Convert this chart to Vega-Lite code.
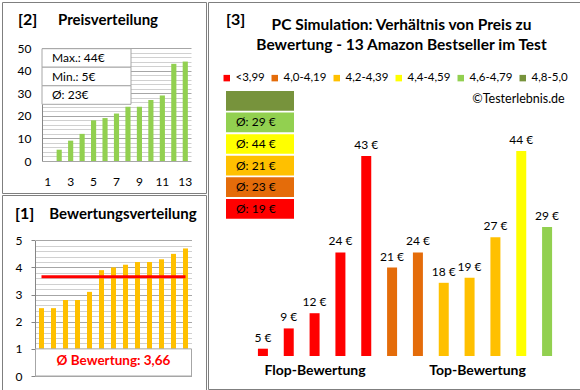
{
  "$schema": "https://vega.github.io/schema/vega-lite/v6.json",
  "background": "white",
  "padding": {"left": 1, "top": 1, "right": 0, "bottom": 0},
  "config": {
    "font": "Lato",
    "view": {"stroke": "#7F7F7F", "strokeWidth": 1},
    "axis": {"labelColor": "#000000", "labelFont": "Lato"},
    "text": {"color": "#000000"}
  },
  "datasets": {
    "preise": [
      {"rang": 2, "preis": 5}, {"rang": 3, "preis": 9}, {"rang": 4, "preis": 12},
      {"rang": 5, "preis": 18}, {"rang": 6, "preis": 19}, {"rang": 7, "preis": 21},
      {"rang": 8, "preis": 24}, {"rang": 9, "preis": 24}, {"rang": 10, "preis": 27},
      {"rang": 11, "preis": 29}, {"rang": 12, "preis": 43}, {"rang": 13, "preis": 44}
    ],
    "preisstats": [
      {"kennzahl": "Max.", "wert": 44},
      {"kennzahl": "Min.", "wert": 5},
      {"kennzahl": "Ø", "wert": 23}
    ],
    "bewertungen": [
      {"rang": 1, "bewertung": 2.5}, {"rang": 2, "bewertung": 2.5}, {"rang": 3, "bewertung": 2.8},
      {"rang": 4, "bewertung": 2.8}, {"rang": 5, "bewertung": 3.1}, {"rang": 6, "bewertung": 3.9},
      {"rang": 7, "bewertung": 4.0}, {"rang": 8, "bewertung": 4.1}, {"rang": 9, "bewertung": 4.2},
      {"rang": 10, "bewertung": 4.2}, {"rang": 11, "bewertung": 4.3}, {"rang": 12, "bewertung": 4.5},
      {"rang": 13, "bewertung": 4.7}
    ],
    "produkte": [
      {"nr": 1, "preis": 5, "klasse": "<3,99"},
      {"nr": 2, "preis": 9, "klasse": "<3,99"},
      {"nr": 3, "preis": 12, "klasse": "<3,99"},
      {"nr": 4, "preis": 24, "klasse": "<3,99"},
      {"nr": 5, "preis": 43, "klasse": "<3,99"},
      {"nr": 6, "preis": 21, "klasse": "4,0-4,19"},
      {"nr": 7, "preis": 24, "klasse": "4,0-4,19"},
      {"nr": 8, "preis": 18, "klasse": "4,2-4,39"},
      {"nr": 9, "preis": 19, "klasse": "4,2-4,39"},
      {"nr": 10, "preis": 27, "klasse": "4,2-4,39"},
      {"nr": 11, "preis": 44, "klasse": "4,4-4,59"},
      {"nr": 12, "preis": 29, "klasse": "4,6-4,79"}
    ],
    "klassen": [
      {"klasse": "4,8-5,0", "schnitt": null},
      {"klasse": "4,6-4,79", "schnitt": 29},
      {"klasse": "4,4-4,59", "schnitt": 44},
      {"klasse": "4,2-4,39", "schnitt": 21},
      {"klasse": "4,0-4,19", "schnitt": 23},
      {"klasse": "<3,99", "schnitt": 19}
    ],
    "bewertungsschnitt": [{"von": 1, "bis": 13, "schnitt": 3.66}]
  },
  "spacing": 0,
  "hconcat": [
    {
      "spacing": 0,
      "vconcat": [
        {
          "width": 204,
          "height": 191,
          "resolve": {"scale": {"x": "independent", "y": "independent"}},
          "layer": [
            {
              "data": {"name": "preise"},
              "mark": {"type": "bar", "color": "#92D050"},
              "encoding": {
                "x": {
                  "field": "rang", "type": "ordinal",
                  "scale": {"domain": [1, 2, 3, 4, 5, 6, 7, 8, 9, 10, 11, 12, 13], "range": [40, 189], "paddingInner": 0.55, "paddingOuter": 0.275},
                  "axis": {"title": null, "values": [1, 3, 5, 7, 9, 11, 13], "domain": false, "ticks": false, "tickSize": 0, "grid": false, "labelAngle": 0, "labelPadding": 15, "offset": -32, "labelFontSize": 12}
                },
                "y": {
                  "field": "preis", "type": "quantitative",
                  "scale": {"domain": [0, 50], "range": [159, 46], "nice": false},
                  "axis": {
                    "title": null,
                    "values": [0, 2, 4, 6, 8, 10, 12, 14, 16, 18, 20, 22, 24, 26, 28, 30, 32, 34, 36, 38, 40, 42, 44, 46, 48, 50],
                    "labelExpr": "datum.value % 10 === 0 ? datum.label : ''",
                    "labelOverlap": false,
                    "grid": true,
                    "gridColor": {"condition": {"test": "datum.value % 10 === 0", "value": "#A6A6A6"}, "value": "#D0D0D0"},
                    "ticks": false, "tickSize": 0,
                    "domainColor": "#868686",
                    "offset": -40, "labelPadding": 11, "labelFontSize": 12
                  }
                }
              }
            },
            {
              "data": {"name": "preisstats"},
              "transform": [{"calculate": "datum.kennzahl + ': ' + datum.wert + '€'", "as": "beschriftung"}],
              "layer": [
                {
                  "mark": {"type": "rect", "fill": "white", "stroke": "#A6A6A6", "strokeWidth": 1},
                  "encoding": {
                    "x": {"datum": 0, "type": "quantitative", "scale": {"domain": [0, 1], "range": [40, 129], "nice": false}, "axis": null},
                    "x2": {"datum": 1},
                    "y": {"field": "kennzahl", "type": "nominal", "sort": null, "scale": {"domain": ["Max.", "Min.", "Ø"], "range": [46.7, 102.3], "paddingInner": 0, "paddingOuter": 0}, "axis": null}
                  }
                },
                {
                  "mark": {"type": "text", "align": "left", "baseline": "middle", "dx": 10, "fontSize": 12},
                  "encoding": {
                    "x": {"datum": 0, "type": "quantitative"},
                    "y": {"field": "kennzahl", "type": "nominal", "sort": null},
                    "text": {"field": "beschriftung"}
                  }
                }
              ]
            },
            {
              "data": {"values": [{}]},
              "layer": [
                {
                  "mark": {"type": "text", "text": "[2]", "fontSize": 16, "fontWeight": "bold", "align": "left", "baseline": "alphabetic"},
                  "encoding": {
                    "x": {"datum": 0.0784, "type": "quantitative", "scale": {"domain": [0, 1], "nice": false}, "axis": null},
                    "y": {"datum": 0.122, "type": "quantitative", "scale": {"domain": [0, 1], "reverse": true, "nice": false}, "axis": null}
                  }
                },
                {
                  "mark": {"type": "text", "text": "Preisverteilung", "fontSize": 15, "fontWeight": "bold", "align": "left", "baseline": "alphabetic"},
                  "encoding": {
                    "x": {"datum": 0.2745, "type": "quantitative"},
                    "y": {"datum": 0.122, "type": "quantitative"}
                  }
                }
              ]
            }
          ]
        },
        {
          "width": 204,
          "height": 196,
          "resolve": {"scale": {"x": "independent", "y": "independent"}},
          "layer": [
            {
              "data": {"name": "bewertungen"},
              "mark": {"type": "bar", "color": "#FFC000"},
              "encoding": {
                "x": {"field": "rang", "type": "ordinal", "scale": {"range": [33.5, 189.5], "paddingInner": 0.58, "paddingOuter": 0.29}, "axis": null},
                "y": {
                  "field": "bewertung", "type": "quantitative",
                  "scale": {"domain": [0, 5], "range": [181, 45.3], "nice": false},
                  "axis": {
                    "title": null,
                    "values": [0, 0.2, 0.4, 0.6, 0.8, 1, 1.2, 1.4, 1.6, 1.8, 2, 2.2, 2.4, 2.6, 2.8, 3, 3.2, 3.4, 3.6, 3.8, 4, 4.2, 4.4, 4.6, 4.8, 5],
                    "labelExpr": "datum.value % 1 === 0 ? format(datum.value, 'd') : ''",
                    "labelOverlap": false,
                    "grid": true,
                    "gridColor": {"condition": {"test": "datum.value % 1 === 0", "value": "#A6A6A6"}, "value": "#D0D0D0"},
                    "ticks": true, "tickSize": 4,
                    "tickColor": {"condition": {"test": "datum.value % 1 === 0", "value": "#868686"}, "value": "transparent"},
                    "domainColor": "#868686",
                    "offset": -33, "labelPadding": 9, "labelFontSize": 12
                  }
                }
              }
            },
            {
              "data": {"name": "bewertungsschnitt"},
              "transform": [{"calculate": "'Ø Bewertung: ' + replace(format(datum.schnitt, '.2f'), '.', ',')", "as": "beschriftung"}],
              "layer": [
                {
                  "mark": {"type": "rule", "color": "#FF0000", "strokeWidth": 3},
                  "encoding": {
                    "x": {"field": "von", "type": "quantitative", "scale": {"domain": [0.5, 13.5], "range": [33.5, 189.5], "nice": false, "zero": false}, "axis": null},
                    "x2": {"field": "bis"},
                    "y": {"field": "schnitt", "type": "quantitative", "scale": {"domain": [0, 5], "range": [181, 45.3], "nice": false}, "axis": null}
                  }
                },
                {
                  "mark": {"type": "rect", "fill": "white", "stroke": "#A6A6A6", "strokeWidth": 1},
                  "encoding": {
                    "x": {"datum": 0.5, "type": "quantitative"},
                    "x2": {"datum": 13.5},
                    "y": {"datum": 0, "type": "quantitative"},
                    "y2": {"datum": 1}
                  }
                },
                {
                  "mark": {"type": "text", "align": "center", "baseline": "middle", "fontSize": 13.5, "fontWeight": "bold", "color": "#FF0000"},
                  "encoding": {
                    "x": {"datum": 7, "type": "quantitative"},
                    "y": {"datum": 0.54, "type": "quantitative"},
                    "text": {"field": "beschriftung"}
                  }
                }
              ]
            },
            {
              "data": {"values": [{}]},
              "layer": [
                {
                  "mark": {"type": "text", "text": "[1]", "fontSize": 16, "fontWeight": "bold", "align": "left", "baseline": "alphabetic"},
                  "encoding": {
                    "x": {"datum": 0.0637, "type": "quantitative", "scale": {"domain": [0, 1], "nice": false}, "axis": null},
                    "y": {"datum": 0.1224, "type": "quantitative", "scale": {"domain": [0, 1], "reverse": true, "nice": false}, "axis": null}
                  }
                },
                {
                  "mark": {"type": "text", "text": "Bewertungsverteilung", "fontSize": 15, "fontWeight": "bold", "align": "left", "baseline": "alphabetic"},
                  "encoding": {
                    "x": {"datum": 0.2319, "type": "quantitative"},
                    "y": {"datum": 0.1224, "type": "quantitative"}
                  }
                }
              ]
            }
          ]
        }
      ]
    },
    {
      "width": 372,
      "height": 387,
      "resolve": {"scale": {"x": "independent", "y": "independent"}},
      "layer": [
        {
          "data": {"name": "produkte"},
          "transform": [{"calculate": "datum.preis + ' €'", "as": "beschriftung"}],
          "layer": [
            {
              "mark": {"type": "bar"},
              "encoding": {
                "x": {"field": "nr", "type": "ordinal", "scale": {"range": [42, 352], "paddingInner": 0.613, "paddingOuter": 0.3065}, "axis": null},
                "y": {"field": "preis", "type": "quantitative", "scale": {"domain": [3.56, 50], "range": [354, 118.6], "nice": false, "zero": false}, "axis": null},
                "y2": {"datum": 3.56},
                "color": {
                  "field": "klasse", "type": "nominal",
                  "scale": {"domain": ["<3,99", "4,0-4,19", "4,2-4,39", "4,4-4,59", "4,6-4,79", "4,8-5,0"], "range": ["#FF0000", "#E46C0A", "#FFC000", "#FFFF00", "#92D050", "#77933C"]},
                  "legend": {
                    "orient": "none", "legendX": 219, "legendY": 70, "direction": "horizontal",
                    "title": null, "symbolType": "square", "symbolSize": 42, "symbolStrokeWidth": 0,
                    "labelFontSize": 11.5, "labelFont": "Lato", "labelColor": "#000000", "labelOffset": 3,
                    "columnPadding": 4, "padding": 0
                  }
                }
              }
            },
            {
              "mark": {"type": "text", "baseline": "bottom", "dy": -4, "fontSize": 12},
              "encoding": {
                "x": {"field": "nr", "type": "ordinal"},
                "y": {"field": "preis", "type": "quantitative"},
                "text": {"field": "beschriftung"}
              }
            }
          ]
        },
        {
          "data": {"name": "klassen"},
          "transform": [{"calculate": "datum.schnitt == null ? '' : 'Ø: ' + datum.schnitt + ' €'", "as": "beschriftung"}],
          "layer": [
            {
              "mark": {"type": "rect"},
              "encoding": {
                "x": {"datum": 0, "type": "quantitative", "scale": {"domain": [0, 1], "range": [18, 86], "nice": false}, "axis": null},
                "x2": {"datum": 1},
                "y": {"field": "klasse", "type": "nominal", "sort": null, "scale": {"domain": ["4,8-5,0", "4,6-4,79", "4,4-4,59", "4,2-4,39", "4,0-4,19", "<3,99"], "range": [88, 217.6], "paddingInner": 0.09, "paddingOuter": 0.045}, "axis": null},
                "color": {
                  "field": "klasse", "type": "nominal",
                  "scale": {"domain": ["<3,99", "4,0-4,19", "4,2-4,39", "4,4-4,59", "4,6-4,79", "4,8-5,0"], "range": ["#FF0000", "#E46C0A", "#FFC000", "#FFFF00", "#92D050", "#77933C"]}
                }
              }
            },
            {
              "mark": {"type": "text", "align": "left", "baseline": "middle", "dx": 10, "fontSize": 12},
              "encoding": {
                "x": {"datum": 0, "type": "quantitative"},
                "y": {"field": "klasse", "type": "nominal", "sort": null},
                "text": {"field": "beschriftung"}
              }
            }
          ]
        },
        {
          "data": {"values": [{}]},
          "layer": [
            {
              "mark": {"type": "text", "text": "[3]", "fontSize": 16, "fontWeight": "bold", "align": "left", "baseline": "alphabetic"},
              "encoding": {
                "x": {"datum": 0.0484, "type": "quantitative", "scale": {"domain": [0, 1], "nice": false}, "axis": null},
                "y": {"datum": 0.0607, "type": "quantitative", "scale": {"domain": [0, 1], "reverse": true, "nice": false}, "axis": null}
              }
            },
            {
              "mark": {"type": "text", "text": ["PC Simulation: Verhältnis von Preis zu", "Bewertung - 13 Amazon Bestseller im Test"], "lineHeight": 20, "fontSize": 15.5, "fontWeight": "bold", "align": "center", "baseline": "alphabetic"},
              "encoding": {
                "x": {"datum": 0.5202, "type": "quantitative"},
                "y": {"datum": 0.0731, "type": "quantitative"}
              }
            },
            {
              "mark": {"type": "text", "text": "©Testerlebnis.de", "fontSize": 12.5, "align": "right", "baseline": "alphabetic"},
              "encoding": {
                "x": {"datum": 0.9589, "type": "quantitative"},
                "y": {"datum": 0.2602, "type": "quantitative"}
              }
            },
            {
              "mark": {"type": "text", "text": "Flop-Bewertung", "fontSize": 14, "fontWeight": "bold", "align": "center", "baseline": "alphabetic"},
              "encoding": {
                "x": {"datum": 0.2876, "type": "quantitative"},
                "y": {"datum": 0.9638, "type": "quantitative"}
              }
            },
            {
              "mark": {"type": "text", "text": "Top-Bewertung", "fontSize": 14, "fontWeight": "bold", "align": "center", "baseline": "alphabetic"},
              "encoding": {
                "x": {"datum": 0.7245, "type": "quantitative"},
                "y": {"datum": 0.9638, "type": "quantitative"}
              }
            }
          ]
        }
      ]
    }
  ]
}
